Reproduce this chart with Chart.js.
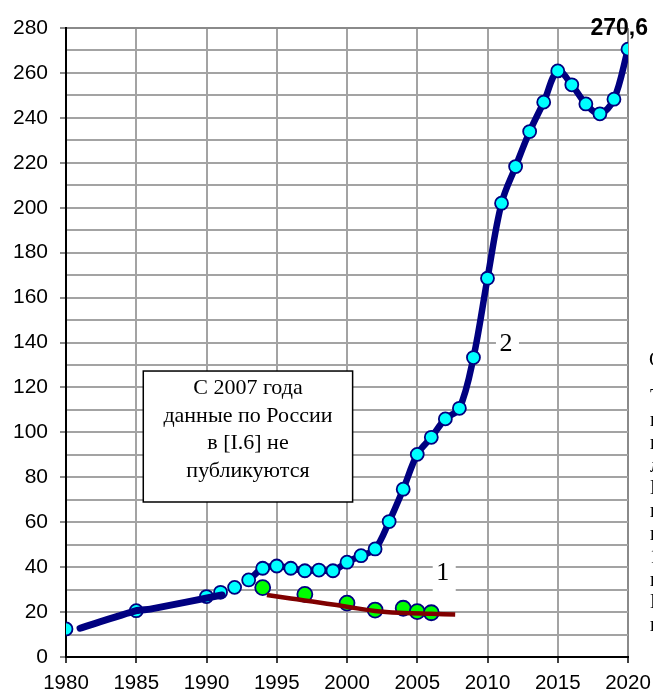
<!DOCTYPE html>
<html>
<head>
<meta charset="utf-8">
<script src="https://cdn.jsdelivr.net/npm/chart.js@4/dist/chart.umd.min.js"></script>
<style>
  html, body { margin: 0; padding: 0; background: #fff; }
  #wrap { width: 653px; height: 693px; position: relative; }
</style>
</head>
<body>
<div id="wrap"><canvas id="c" width="653" height="693"></canvas></div>
<script>
// ---- Data ----
const years2 = [1980, 1985, 1990, 1991, 1992, 1993, 1994, 1995, 1996, 1997, 1998, 1999, 2000,
  2001, 2002, 2003, 2004, 2005, 2006, 2007, 2008, 2009, 2010, 2011, 2012, 2013, 2014,
  2015, 2016, 2017, 2018, 2019, 2020];
const values2 = [12.5, 20.6, 26.9, 28.8, 31.0, 34.3, 39.5, 40.5, 39.5, 38.4, 38.7, 38.4, 42.2,
  45.1, 48.1, 60.3, 74.7, 90.2, 97.8, 106.0, 110.7, 133.3, 168.6, 202.0, 218.3, 233.9, 247.0,
  260.9, 254.7, 246.2, 241.8, 248.3, 270.6];
const lineStartYear = 1993;

const years1 = [1994, 1997, 2000, 2002, 2004, 2005, 2006];
const values1 = [30.9, 27.9, 24.0, 20.9, 21.7, 20.2, 19.7];

const trend1Years = [1994.3, 1996, 1998, 2000, 2002, 2004, 2006, 2007.7];
const trend1Values = [27.6, 26.0, 24.3, 22.4, 20.5, 19.6, 19.2, 18.9];

const trendEarlyYears = [1981, 1985, 1986, 1991.1];
const trendEarlyValues = [12.8, 20.6, 21.3, 27.6];

const yTicks = { min: 0, max: 280, step: 10, labelStep: 20 };
const xTicks = { min: 1980, max: 2020, step: 5 };

const lastLabel = '270,6';
const noteLines = ['С 2007 года', 'данные по России', 'в [I.6] не', 'публикуются'];
const noteBox = { x0: 1985.5, x1: 2000.4, y0: 127.3, y1: 69.0 };
const curveLabels = [
  { text: '2', x: 2011.1, y: 139.8 },
  { text: '1', x: 2006.6, y: 37.8 }
];
const edgeText = ['С', 'Т', 'г', 'п', 'л', 'Г', 'п', 'п', '1', 'ш', 'Г', 'п'];

// ---- build ----
const toXY = (xs, ys) => xs.map((x, i) => ({ x: x, y: ys[i] }));

const NAVY = '#000080';
const GRID = '#a3a3a3';
const SANS = "'Liberation Sans', Arial, sans-serif";
const SERIF = "'Liberation Serif', 'Times New Roman', serif";

const overlay = {
  id: 'overlay',
  afterDatasetsDraw(chart) {
    const ctx = chart.ctx;
    const xs = chart.scales.x, ys = chart.scales.y;
    // note box
    const bx0 = xs.getPixelForValue(noteBox.x0), bx1 = xs.getPixelForValue(noteBox.x1);
    const by0 = ys.getPixelForValue(noteBox.y0), by1 = ys.getPixelForValue(noteBox.y1);
    ctx.save();
    ctx.fillStyle = '#fff';
    ctx.fillRect(bx0, by0, bx1 - bx0, by1 - by0);
    ctx.strokeStyle = '#000';
    ctx.lineWidth = 1.5;
    ctx.strokeRect(bx0, by0, bx1 - bx0, by1 - by0);
    ctx.fillStyle = '#000';
    ctx.font = '22px ' + SERIF;
    ctx.textAlign = 'center';
    ctx.textBaseline = 'middle';
    const cx = (bx0 + bx1) / 2;
    const lh = 27.8;
    const top = by0 + 17;
    noteLines.forEach((t, i) => ctx.fillText(t, cx, top + i * lh));
    // curve labels
    ctx.font = '26px ' + SERIF;
    curveLabels.forEach(l => {
      const px = xs.getPixelForValue(l.x), py = ys.getPixelForValue(l.y);
      ctx.fillStyle = '#fff';
      ctx.fillRect(px - 7, py - 16, 23, 35);
      ctx.fillStyle = '#000';
      ctx.fillText(l.text, px + 3, py + 1);
    });
    ctx.restore();
  },
  afterDraw(chart) {
    const ctx = chart.ctx;
    const meta = chart.getDatasetMeta(0);
    const last = meta.data[meta.data.length - 1];
    ctx.save();
    ctx.fillStyle = '#000';
    ctx.font = 'bold 23px ' + SANS;
    ctx.textAlign = 'right';
    ctx.textBaseline = 'alphabetic';
    ctx.fillText(lastLabel, last.x + 20, last.y - 14);
    // clipped text from neighbouring column at the right edge
    ctx.font = '20px ' + SERIF;
    ctx.textAlign = 'left';
    ctx.textBaseline = 'middle';
    ctx.fillText(edgeText[0], 649, 361);
    for (let i = 1; i < edgeText.length; i++) {
      ctx.fillText(edgeText[i], 650, 398 + (i - 1) * 22.8);
    }
    ctx.restore();
  }
};

new Chart(document.getElementById('c'), {
  type: 'line',
  data: {
    datasets: [
      {
        label: '2',
        data: toXY(years2, values2),
        borderColor: NAVY,
        borderWidth: 6.5,
        tension: 0.35,
        pointRadius: 6.5,
        pointBackgroundColor: '#00ffff',
        pointBorderColor: NAVY,
        pointBorderWidth: 1.8,
        segment: {
          borderColor: c => c.p0.parsed.x < lineStartYear ? 'rgba(0,0,0,0)' : NAVY
        },
        order: 4
      },
      {
        label: '1 points',
        data: toXY(years1, values1),
        showLine: false,
        pointRadius: 7.5,
        pointBackgroundColor: '#00ff00',
        pointBorderColor: NAVY,
        pointBorderWidth: 1.8,
        order: 3
      },
      {
        label: '1 trend',
        data: toXY(trend1Years, trend1Values),
        borderColor: '#800000',
        borderWidth: 4.5,
        tension: 0.4,
        pointRadius: 0,
        order: 2
      },
      {
        label: 'early trend',
        data: toXY(trendEarlyYears, trendEarlyValues),
        borderColor: NAVY,
        borderWidth: 7,
        tension: 0.2,
        pointRadius: 0,
        borderCapStyle: 'round',
        order: 1
      }
    ]
  },
  options: {
    responsive: false,
    animation: false,
    events: [],
    layout: { padding: { left: 0, right: 25, top: 28, bottom: 0 } },
    plugins: { legend: { display: false }, tooltip: { enabled: false } },
    scales: {
      x: {
        type: 'linear',
        min: xTicks.min, max: xTicks.max,
        afterFit: s => { s.height = 36; s.paddingLeft = 0; s.paddingRight = 0; },
        ticks: {
          stepSize: xTicks.step,
          autoSkip: false,
          maxRotation: 0,
          padding: 8,
          color: '#000',
          font: { family: SANS, size: 20.5 },
          callback: v => String(v)
        },
        grid: {
          color: c => c.tick && c.tick.value === xTicks.max ? '#8a8a8a' : GRID,
          lineWidth: 2,
          tickLength: 6,
          tickColor: '#000',
          tickWidth: 1.5
        },
        border: { color: '#000', width: 2 }
      },
      y: {
        min: yTicks.min, max: yTicks.max,
        afterFit: s => { s.width = 66; s.paddingTop = 0; s.paddingBottom = 0; },
        ticks: {
          stepSize: yTicks.step,
          autoSkip: false,
          padding: 12,
          color: '#000',
          font: { family: SANS, size: 21 },
          callback: v => (v % yTicks.labelStep === 0 ? String(v) : '')
        },
        grid: {
          color: c => c.tick && c.tick.value === yTicks.max ? '#8a8a8a' : GRID,
          lineWidth: 2,
          tickLength: 6,
          tickColor: c => c.tick && c.tick.value % yTicks.labelStep === 0 ? '#8a8a8a' : 'rgba(0,0,0,0)',
          tickWidth: 2
        },
        border: { color: '#000', width: 2 }
      }
    }
  },
  plugins: [overlay]
});
</script>
</body>
</html>
